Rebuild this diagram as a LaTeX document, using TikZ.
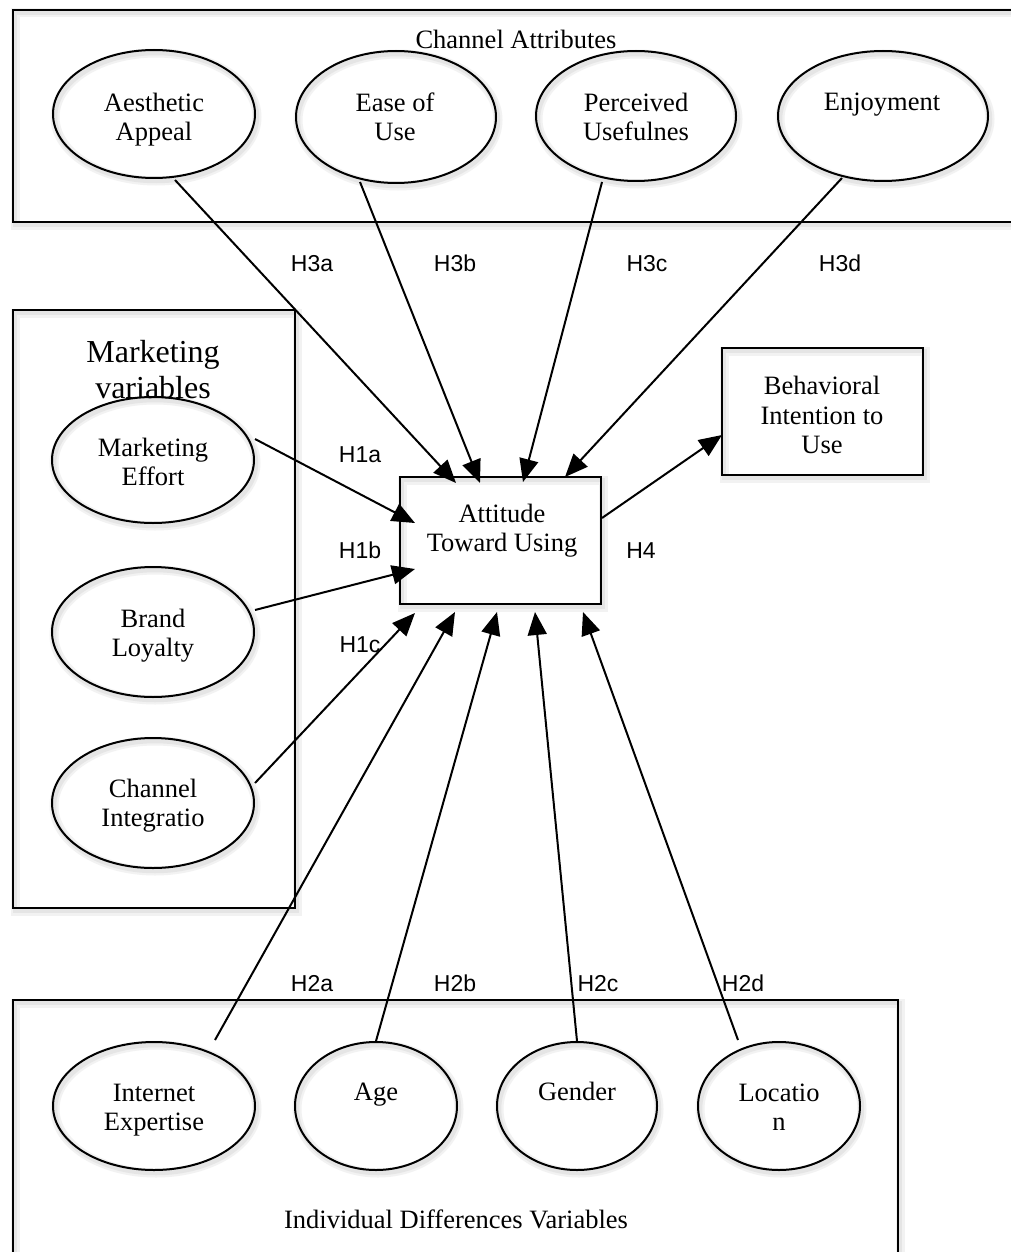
\documentclass[tikz,border=0pt]{standalone}
\usepackage{fontspec}
\setmainfont{Liberation Serif}
\newfontfamily\hfont{Liberation Sans}
\usetikzlibrary{arrows.meta,shapes.geometric}
\begin{document}
\begin{tikzpicture}[x=1pt,y=-1pt,
  shd/.style={
    preaction={draw=black!5, line width=9pt, transform canvas={shift={(2pt,-3pt)}}},
    preaction={draw=black!10, line width=4.5pt, transform canvas={shift={(2pt,-3pt)}}}},
  box/.style={draw, line width=2.5pt, rectangle, inner sep=0pt, shd},
  ell/.style={draw, line width=2pt, ellipse, inner sep=0pt, shd},
  lab/.style={font=\fontsize{26.5}{29.5}\selectfont, align=center, inner sep=0pt},
  biglab/.style={font=\fontsize{32}{36}\selectfont, align=center, inner sep=0pt},
  hyp/.style={font=\hfont\fontsize{23}{26}\selectfont, inner sep=0pt, text height=16.5pt, text depth=0pt},
  arr/.style={line width=2pt, -{Triangle[length=23pt,width=19pt]}}
]
\fill[white] (0,0) rectangle (1010,1252);
\useasboundingbox (0,0) rectangle (1010,1252);

% container boxes
\node[box, minimum width=1037pt, minimum height=212pt] (topbox) at (531.5,116) {};
\node[box, minimum width=282pt, minimum height=598pt] (mktbox) at (154,609) {};
\node[box, minimum width=885pt, minimum height=300pt] (botbox) at (455.5,1150) {};

% central boxes
\node[box, minimum width=201pt, minimum height=127pt] (att) at (500.5,540.5) {};
\node[box, minimum width=201pt, minimum height=127pt] (beh) at (822.5,411.5) {};

% ellipses
\node[ell, minimum width=202pt, minimum height=128pt] (aes) at (154,114) {};
\node[ell, minimum width=200pt, minimum height=132pt] (ease) at (396,117) {};
\node[ell, minimum width=200pt, minimum height=130pt] (perc) at (636,116) {};
\node[ell, minimum width=210pt, minimum height=130pt] (enj) at (883,116) {};
\node[ell, minimum width=202pt, minimum height=126pt] (meff) at (153,460) {};
\node[ell, minimum width=202pt, minimum height=130pt] (brand) at (153,632) {};
\node[ell, minimum width=202pt, minimum height=130pt] (chint) at (153,803) {};
\node[ell, minimum width=202pt, minimum height=128pt] (inet) at (154,1106) {};
\node[ell, minimum width=162pt, minimum height=128pt] (age) at (376,1106) {};
\node[ell, minimum width=160pt, minimum height=128pt] (gender) at (577,1106) {};
\node[ell, minimum width=162pt, minimum height=128pt] (loc) at (779,1106) {};

% connector end points
\coordinate (s3a) at (175,180);  \coordinate (e3a) at (456,483);
\coordinate (s3b) at (360,182);  \coordinate (e3b) at (480,483);
\coordinate (s3c) at (602,182);  \coordinate (e3c) at (523,482);
\coordinate (s3d) at (842,178);  \coordinate (e3d) at (565,477);
\coordinate (s1a) at (255,439);  \coordinate (e1a) at (415,523);
\coordinate (s1b) at (255,610);  \coordinate (e1b) at (415,569);
\coordinate (s1c) at (255,783);  \coordinate (e1c) at (415,613);
\coordinate (s2a) at (215,1040); \coordinate (e2a) at (455,612);
\coordinate (s2b) at (376,1041); \coordinate (e2b) at (497,612);
\coordinate (s2c) at (577,1041); \coordinate (e2c) at (535,612);
\coordinate (s2d) at (738,1040); \coordinate (e2d) at (583,612);
\coordinate (s4) at (602,518);   \coordinate (e4) at (722,435);

\draw[arr] (s3a) -- (e3a);
\draw[arr] (s3b) -- (e3b);
\draw[arr] (s3c) -- (e3c);
\draw[arr] (s3d) -- (e3d);
\draw[arr] (s1a) -- (e1a);
\draw[arr] (s1b) -- (e1b);
\draw[arr] (s1c) -- (e1c);
\draw[arr] (s2a) -- (e2a);
\draw[arr] (s2b) -- (e2b);
\draw[arr] (s2c) -- (e2c);
\draw[arr] (s2d) -- (e2d);
\draw[arr] (s4) -- (e4);

% texts
\node[lab] (tchan) at (516,43) {\strut Channel Attributes};
\node[lab] (taes) at (154,120) {\strut Aesthetic\\\strut Appeal};
\node[lab] (tease) at (395,120) {\strut Ease of\\\strut Use};
\node[lab] (tperc) at (636,120) {\strut Perceived\\\strut Usefulnes};
\node[lab] (tenj) at (882,105) {\strut Enjoyment};
\node[biglab] (tmkt) at (153,373) {\strut Marketing\\\strut variables};
\node[lab] (tmeff) at (153,465) {\strut Marketing\\\strut Effort};
\node[lab] (tbrand) at (153,636) {\strut Brand\\\strut Loyalty};
\node[lab] (tchint) at (153,806) {\strut Channel\\\strut Integratio};
\node[lab] (tatt) at (502,531) {\strut Attitude\\\strut Toward Using};
\node[lab] (tbeh) at (822,418.5) {\strut Behavioral\\\strut Intention to\\\strut Use};
\node[lab] (tinet) at (154,1110) {\strut Internet\\\strut Expertise};
\node[lab] (tage) at (376,1095) {\strut Age};
\node[lab] (tgender) at (577,1095) {\strut Gender};
\node[lab] (tloc) at (779,1110) {\strut Locatio\\\strut n};
\node[lab] (tind) at (456,1223) {\strut Individual Differences Variables};

% hypothesis labels
\node[hyp] (h3a) at (312,263) {H3a};
\node[hyp] (h3b) at (455,263) {H3b};
\node[hyp] (h3c) at (647,263) {H3c};
\node[hyp] (h3d) at (840,263) {H3d};
\node[hyp] (h1a) at (360,454) {H1a};
\node[hyp] (h1b) at (360,550) {H1b};
\node[hyp] (h1c) at (360,644) {H1c};
\node[hyp] (h4) at (641,550) {H4};
\node[hyp] (h2a) at (312,983) {H2a};
\node[hyp] (h2b) at (455,983) {H2b};
\node[hyp] (h2c) at (598,983) {H2c};
\node[hyp] (h2d) at (743,983) {H2d};
\end{tikzpicture}
\end{document}
